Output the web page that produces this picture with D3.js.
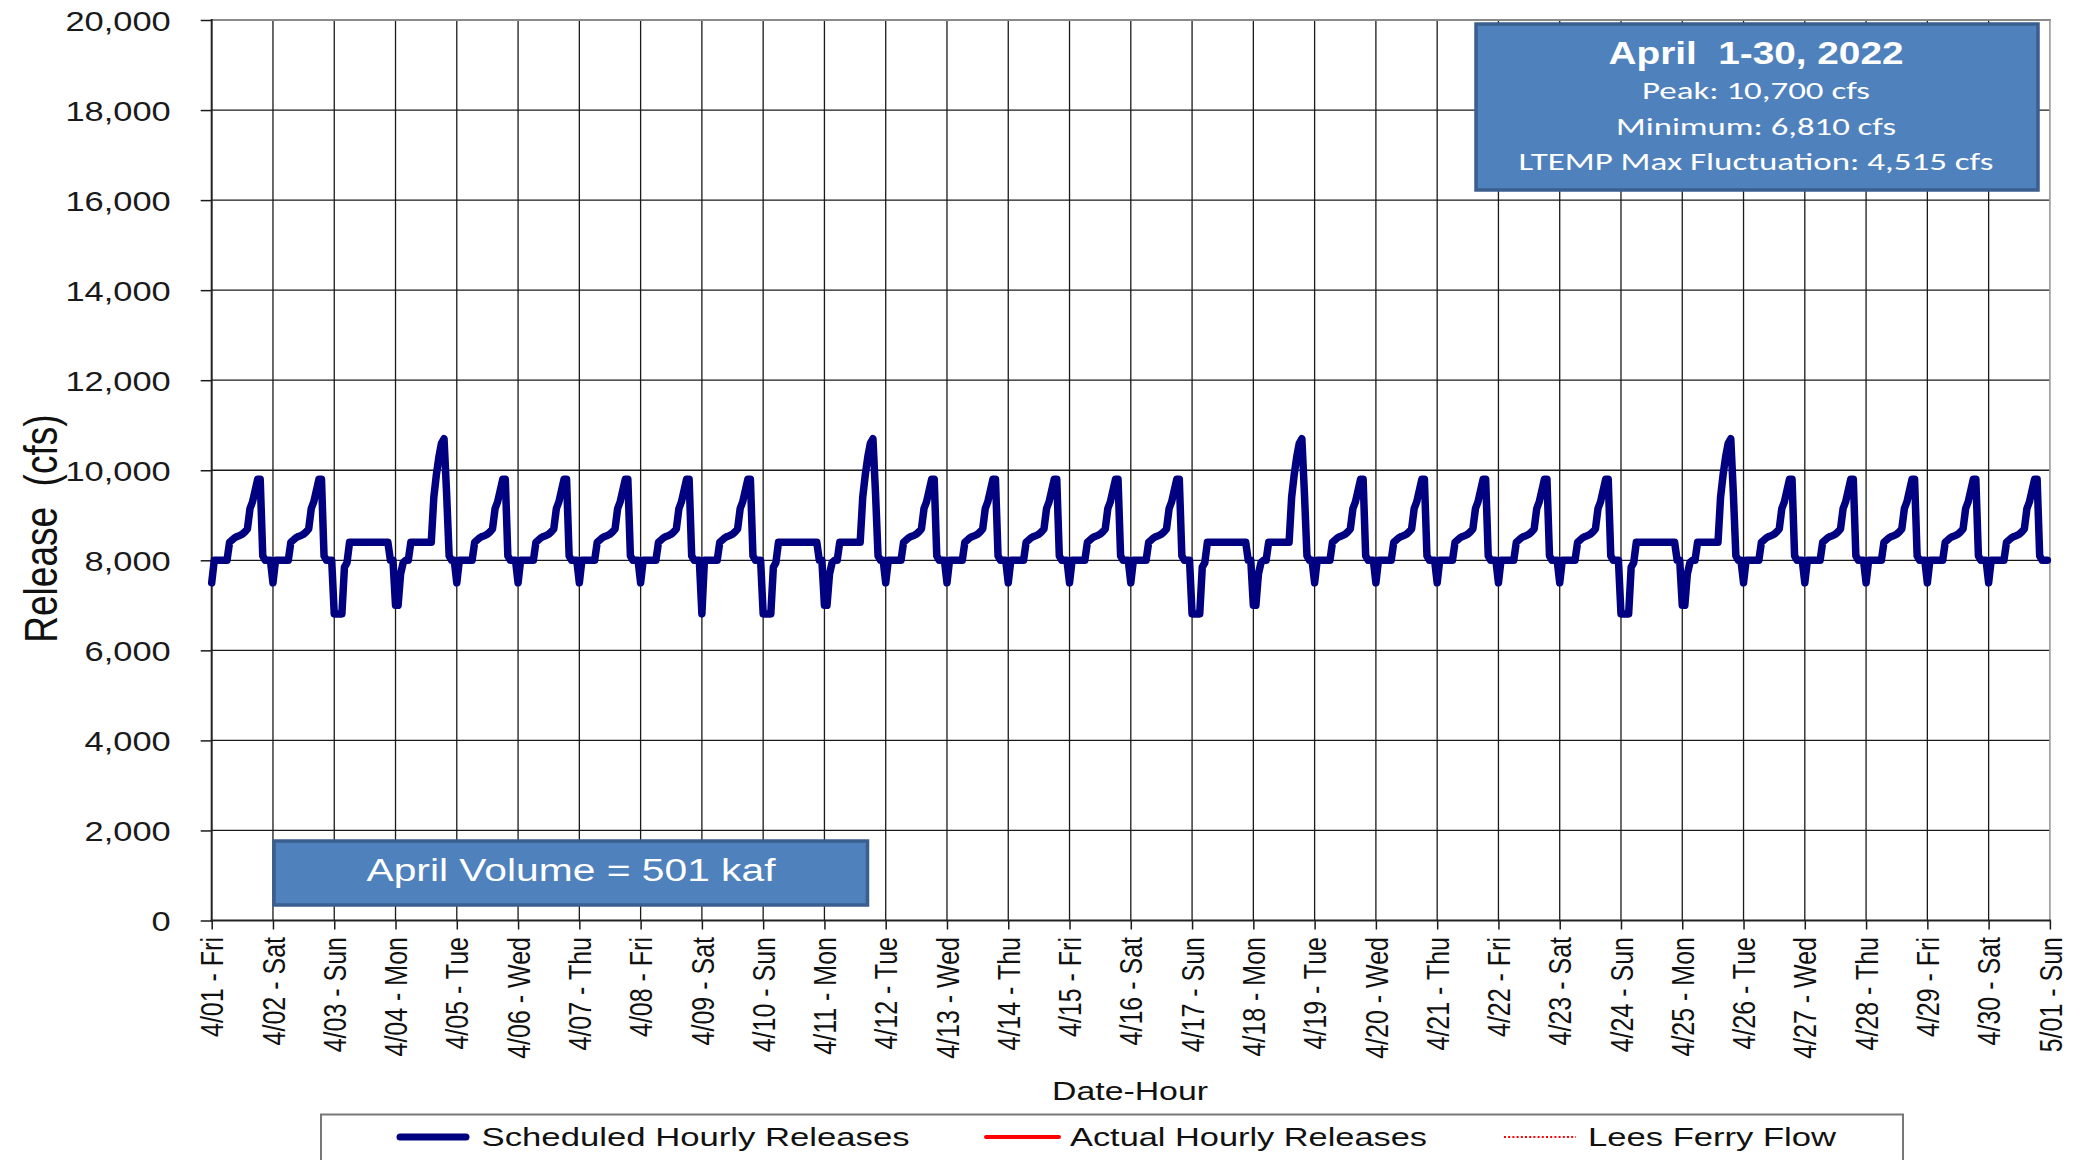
<!DOCTYPE html>
<html><head><meta charset="utf-8">
<script src="https://cdn.jsdelivr.net/npm/d3@7"></script>
<style>html,body{margin:0;padding:0;background:#fff;overflow:hidden;} svg{display:block;}</style>
</head><body>
<svg id="chart" width="2075" height="1160"></svg>
<script>
// ---------------- data ----------------
const dayLabels = ["4/01 - Fri","4/02 - Sat","4/03 - Sun","4/04 - Mon","4/05 - Tue","4/06 - Wed","4/07 - Thu",
  "4/08 - Fri","4/09 - Sat","4/10 - Sun","4/11 - Mon","4/12 - Tue","4/13 - Wed","4/14 - Thu","4/15 - Fri",
  "4/16 - Sat","4/17 - Sun","4/18 - Mon","4/19 - Tue","4/20 - Wed","4/21 - Thu","4/22 - Fri","4/23 - Sat",
  "4/24 - Sun","4/25 - Mon","4/26 - Tue","4/27 - Wed","4/28 - Thu","4/29 - Fri","4/30 - Sat","5/01 - Sun"];
const yTickValues = [0,2000,4000,6000,8000,10000,12000,14000,16000,18000,20000];

// scheduled hourly releases (cfs), one row per day, hours 0..23
const hourlyRelease = [
/*4/01*/ 7500,8000,8000,8000,8000,8000,8000,8400,8450,8500,8530,8550,8580,8630,8700,9150,9300,9550,9800,9800,8100,8000,8000,8000,
/*4/02*/ 7500,8000,8000,8000,8000,8000,8000,8400,8450,8500,8530,8550,8580,8630,8700,9150,9300,9550,9800,9800,8100,8000,8000,8000,
/*4/03*/ 6810,6810,6810,6810,7850,7950,8400,8400,8400,8400,8400,8400,8400,8400,8400,8400,8400,8400,8400,8400,8400,8400,8000,8000,
/*4/04*/ 7000,7000,7700,7950,8000,8000,8400,8400,8400,8400,8400,8400,8400,8400,8400,9400,9900,10300,10600,10700,9500,8100,8000,8000,
/*4/05*/ 7500,8000,8000,8000,8000,8000,8000,8400,8450,8500,8530,8550,8580,8630,8700,9150,9300,9550,9800,9800,8100,8000,8000,8000,
/*4/06*/ 7500,8000,8000,8000,8000,8000,8000,8400,8450,8500,8530,8550,8580,8630,8700,9150,9300,9550,9800,9800,8100,8000,8000,8000,
/*4/07*/ 7500,8000,8000,8000,8000,8000,8000,8400,8450,8500,8530,8550,8580,8630,8700,9150,9300,9550,9800,9800,8100,8000,8000,8000,
/*4/08*/ 7500,8000,8000,8000,8000,8000,8000,8400,8450,8500,8530,8550,8580,8630,8700,9150,9300,9550,9800,9800,8100,8000,8000,8000,
/*4/09*/ 6810,8000,8000,8000,8000,8000,8000,8400,8450,8500,8530,8550,8580,8630,8700,9150,9300,9550,9800,9800,8100,8000,8000,8000,
/*4/10*/ 6810,6810,6810,6810,7850,7950,8400,8400,8400,8400,8400,8400,8400,8400,8400,8400,8400,8400,8400,8400,8400,8400,8000,8000,
/*4/11*/ 7000,7000,7700,7950,8000,8000,8400,8400,8400,8400,8400,8400,8400,8400,8400,9400,9900,10300,10600,10700,9500,8100,8000,8000,
/*4/12*/ 7500,8000,8000,8000,8000,8000,8000,8400,8450,8500,8530,8550,8580,8630,8700,9150,9300,9550,9800,9800,8100,8000,8000,8000,
/*4/13*/ 7500,8000,8000,8000,8000,8000,8000,8400,8450,8500,8530,8550,8580,8630,8700,9150,9300,9550,9800,9800,8100,8000,8000,8000,
/*4/14*/ 7500,8000,8000,8000,8000,8000,8000,8400,8450,8500,8530,8550,8580,8630,8700,9150,9300,9550,9800,9800,8100,8000,8000,8000,
/*4/15*/ 7500,8000,8000,8000,8000,8000,8000,8400,8450,8500,8530,8550,8580,8630,8700,9150,9300,9550,9800,9800,8100,8000,8000,8000,
/*4/16*/ 7500,8000,8000,8000,8000,8000,8000,8400,8450,8500,8530,8550,8580,8630,8700,9150,9300,9550,9800,9800,8100,8000,8000,8000,
/*4/17*/ 6810,6810,6810,6810,7850,7950,8400,8400,8400,8400,8400,8400,8400,8400,8400,8400,8400,8400,8400,8400,8400,8400,8000,8000,
/*4/18*/ 7000,7000,7700,7950,8000,8000,8400,8400,8400,8400,8400,8400,8400,8400,8400,9400,9900,10300,10600,10700,9500,8100,8000,8000,
/*4/19*/ 7500,8000,8000,8000,8000,8000,8000,8400,8450,8500,8530,8550,8580,8630,8700,9150,9300,9550,9800,9800,8100,8000,8000,8000,
/*4/20*/ 7500,8000,8000,8000,8000,8000,8000,8400,8450,8500,8530,8550,8580,8630,8700,9150,9300,9550,9800,9800,8100,8000,8000,8000,
/*4/21*/ 7500,8000,8000,8000,8000,8000,8000,8400,8450,8500,8530,8550,8580,8630,8700,9150,9300,9550,9800,9800,8100,8000,8000,8000,
/*4/22*/ 7500,8000,8000,8000,8000,8000,8000,8400,8450,8500,8530,8550,8580,8630,8700,9150,9300,9550,9800,9800,8100,8000,8000,8000,
/*4/23*/ 7500,8000,8000,8000,8000,8000,8000,8400,8450,8500,8530,8550,8580,8630,8700,9150,9300,9550,9800,9800,8100,8000,8000,8000,
/*4/24*/ 6810,6810,6810,6810,7850,7950,8400,8400,8400,8400,8400,8400,8400,8400,8400,8400,8400,8400,8400,8400,8400,8400,8000,8000,
/*4/25*/ 7000,7000,7700,7950,8000,8000,8400,8400,8400,8400,8400,8400,8400,8400,8400,9400,9900,10300,10600,10700,9500,8100,8000,8000,
/*4/26*/ 7500,8000,8000,8000,8000,8000,8000,8400,8450,8500,8530,8550,8580,8630,8700,9150,9300,9550,9800,9800,8100,8000,8000,8000,
/*4/27*/ 7500,8000,8000,8000,8000,8000,8000,8400,8450,8500,8530,8550,8580,8630,8700,9150,9300,9550,9800,9800,8100,8000,8000,8000,
/*4/28*/ 7500,8000,8000,8000,8000,8000,8000,8400,8450,8500,8530,8550,8580,8630,8700,9150,9300,9550,9800,9800,8100,8000,8000,8000,
/*4/29*/ 7500,8000,8000,8000,8000,8000,8000,8400,8450,8500,8530,8550,8580,8630,8700,9150,9300,9550,9800,9800,8100,8000,8000,8000,
/*4/30*/ 7500,8000,8000,8000,8000,8000,8000,8400,8450,8500,8530,8550,8580,8630,8700,9150,9300,9550,9800,9800,8100,8000,8000,8000
];

const infoTitle = "April  1-30, 2022";
const infoLines = ["Peak: 10,700 cfs", "Minimum: 6,810 cfs", "LTEMP Max Fluctuation: 4,515 cfs"];
const volumeLabel = "April Volume = 501 kaf";
const legendLabels = ["Scheduled Hourly Releases", "Actual Hourly Releases", "Lees Ferry Flow"];
const yTitle = "Release  (cfs)";
const xTitle = "Date-Hour";

// ---------------- drawing ----------------
const svg = d3.select("#chart");
const ARIAL = "'Liberation Sans', Arial, Helvetica, sans-serif";
const CAL = "Carlito, Calibri, Lato, 'Open Sans', sans-serif";
const L = 211.7, R = 2049.9, T = 20, B = 920.5;
const hoursTotal = dayLabels.length * 24 - 24;

const x = d3.scaleLinear().domain([0, hoursTotal]).range([L, R]);
const y = d3.scaleLinear().domain([0, 20000]).range([B, T]);
const dayTicks = d3.range(0, hoursTotal + 1, 24);

svg.append("rect").attr("width", 2075).attr("height", 1160).attr("fill", "#fff");

// grid
const grid = svg.append("g");
grid.selectAll("line.h").data(yTickValues.filter(v => v > 0 && v < 20000)).enter().append("line")
  .attr("x1", L).attr("x2", R).attr("y1", d => y(d)).attr("y2", d => y(d))
  .attr("stroke", "#1a1a1a").attr("stroke-width", 1.3);
grid.selectAll("line.v").data(dayTicks.slice(1, -1)).enter().append("line")
  .attr("y1", T).attr("y2", B).attr("x1", d => x(d)).attr("x2", d => x(d))
  .attr("stroke", "#1a1a1a").attr("stroke-width", 1.3);

// plot border (top/right grey)
svg.append("line").attr("x1", L).attr("x2", R + 1).attr("y1", T).attr("y2", T).attr("stroke", "#8a8a8a").attr("stroke-width", 2);
svg.append("line").attr("x1", R).attr("x2", R).attr("y1", T).attr("y2", B).attr("stroke", "#9a9a9a").attr("stroke-width", 1.6);

// y axis
const yAxis = svg.append("g").attr("transform", `translate(${L},0)`)
  .call(d3.axisLeft(y).tickValues(yTickValues).tickSize(11).tickFormat(d3.format(",")));
yAxis.select(".domain").remove();
yAxis.selectAll(".tick line").attr("stroke", "#1a1a1a").attr("stroke-width", 1.5);
yAxis.selectAll(".tick text")
  .attr("x", null).attr("dy", "0.36em")
  .attr("transform", "translate(-41,0) scale(1.23,1)")
  .attr("text-anchor", "end")
  .style("font-family", ARIAL).style("font-size", "28px").attr("fill", "#1a1a1a");
svg.append("line").attr("x1", L).attr("x2", L).attr("y1", T - 1).attr("y2", B + 1).attr("stroke", "#222").attr("stroke-width", 2);

// x axis
const xAxis = svg.append("g").attr("transform", `translate(0,${B})`)
  .call(d3.axisBottom(x).tickValues(dayTicks).tickSize(9).tickFormat((d, i) => dayLabels[i]));
xAxis.select(".domain").remove();
xAxis.selectAll(".tick line").attr("stroke", "#1a1a1a").attr("stroke-width", 1.5);
xAxis.selectAll(".tick text")
  .attr("y", null).attr("x", null).attr("dy", "0.36em")
  .attr("transform", "translate(0,16.5) scale(1.24,1) rotate(-90)")
  .attr("text-anchor", "end")
  .style("font-family", ARIAL).style("font-size", "25px").attr("fill", "#111");
svg.append("line").attr("x1", L - 1).attr("x2", R + 1).attr("y1", B).attr("y2", B).attr("stroke", "#222").attr("stroke-width", 2);

// series line
const line = d3.line().x((d, i) => x(i)).y(d => y(d));
svg.append("path").datum(hourlyRelease).attr("d", line)
  .attr("fill", "none").attr("stroke", "#000080").attr("stroke-width", 7.5)
  .attr("stroke-linejoin", "round").attr("stroke-linecap", "round");

// axis titles
svg.append("text").text(yTitle)
  .attr("transform", "translate(40,528.6) scale(1.25,1) rotate(-90)")
  .attr("text-anchor", "middle").attr("dy", "0.36em")
  .style("white-space", "pre").style("font-family", ARIAL).style("font-size", "37px").attr("fill", "#111");
svg.append("text").text(xTitle)
  .attr("x", 1130).attr("y", 1100).attr("text-anchor", "middle")
  .attr("textLength", 156).attr("lengthAdjust", "spacingAndGlyphs")
  .style("font-family", ARIAL).style("font-size", "26px").attr("fill", "#111");

// info box
svg.append("rect").attr("x", 1476).attr("y", 24).attr("width", 562).attr("height", 166)
  .attr("fill", "#4f81bd").attr("stroke", "#3a5f8e").attr("stroke-width", 3.5);
svg.append("text").text(infoTitle).attr("x", 1756).attr("y", 64).attr("text-anchor", "middle")
  .attr("textLength", 295).attr("lengthAdjust", "spacingAndGlyphs")
  .style("white-space", "pre").style("font-family", ARIAL).style("font-weight", "bold").style("font-size", "31px").attr("fill", "#fff");
const infoY = [99.3, 135, 170.3];
const infoW = [228, 280, 475];
infoLines.forEach((t, i) => {
  svg.append("text").text(t).attr("x", 1756).attr("y", infoY[i]).attr("text-anchor", "middle")
    .attr("textLength", infoW[i]).attr("lengthAdjust", "spacingAndGlyphs")
    .style("font-family", CAL).style("font-size", "25px").attr("fill", "#fff");
});

// volume box
svg.append("rect").attr("x", 274).attr("y", 841).attr("width", 593.5).attr("height", 64)
  .attr("fill", "#4f81bd").attr("stroke", "#3a5f8e").attr("stroke-width", 3.5);
svg.append("text").text(volumeLabel).attr("x", 571).attr("y", 880.7).attr("text-anchor", "middle")
  .attr("textLength", 409).attr("lengthAdjust", "spacingAndGlyphs")
  .style("font-family", ARIAL).style("font-size", "31px").attr("fill", "#fff");

// legend
svg.append("rect").attr("x", 321).attr("y", 1114.5).attr("width", 1582).attr("height", 80)
  .attr("fill", "#fff").attr("stroke", "#777").attr("stroke-width", 2);
const legY = 1137;
svg.append("line").attr("x1", 400).attr("x2", 466).attr("y1", legY).attr("y2", legY)
  .attr("stroke", "#000080").attr("stroke-width", 7).attr("stroke-linecap", "round");
svg.append("line").attr("x1", 986).attr("x2", 1059).attr("y1", legY).attr("y2", legY)
  .attr("stroke", "#ff0000").attr("stroke-width", 4).attr("stroke-linecap", "round");
svg.append("line").attr("x1", 1504).attr("x2", 1576).attr("y1", legY).attr("y2", legY)
  .attr("stroke", "#ff0000").attr("stroke-width", 1.8).attr("stroke-dasharray", "2,2.2");
const legX = [481.6, 1070, 1588];
const legW = [428, 357, 248];
legendLabels.forEach((t, i) => {
  svg.append("text").text(t).attr("x", legX[i]).attr("y", 1146)
    .attr("textLength", legW[i]).attr("lengthAdjust", "spacingAndGlyphs")
    .style("font-family", ARIAL).style("font-size", "26px").attr("fill", "#111");
});
</script>
</body></html>
